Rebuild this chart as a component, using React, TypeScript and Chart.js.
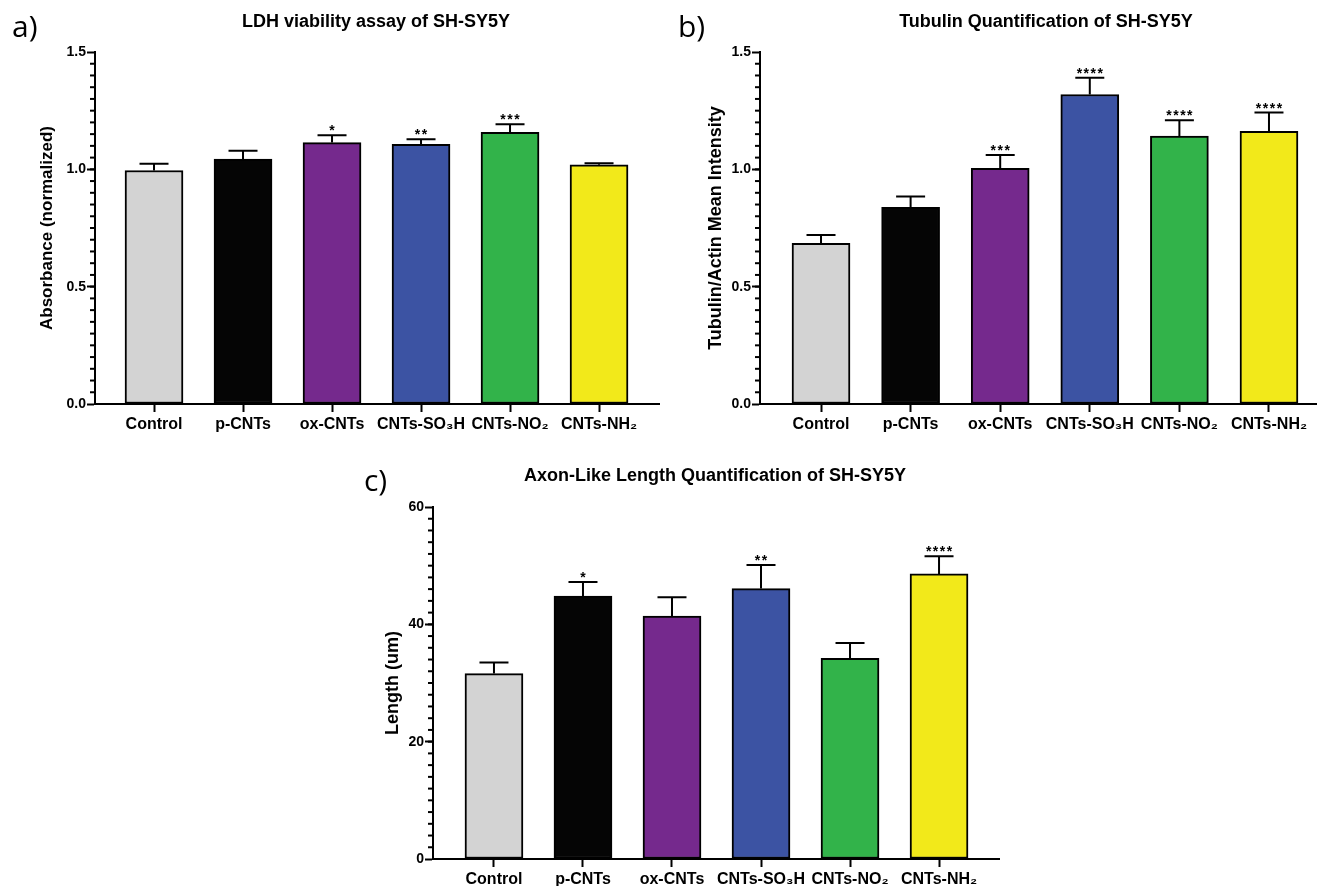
import React, { useEffect, useRef } from 'react';
import { Chart, registerables } from 'chart.js';

Chart.register(...registerables);

// ---------- data ----------
const categories = ['Control', 'p-CNTs', 'ox-CNTs', 'CNTs-SO₃H', 'CNTs-NO₂', 'CNTs-NH₂'];
const barColors = ['#d3d3d3', '#050505', '#75298d', '#3c53a3', '#32b34a', '#f2e91a'];

const ldhMean = [0.995, 1.044, 1.114, 1.107, 1.158, 1.019];
const ldhSem = [0.029, 0.035, 0.031, 0.021, 0.034, 0.007];
const ldhStars = ['', '', '*', '**', '***', ''];
const ldhTicks = [0, 0.5, 1.0, 1.5];

const tubMean = [0.685, 0.838, 1.004, 1.319, 1.142, 1.162];
const tubSem = [0.035, 0.046, 0.057, 0.071, 0.067, 0.08];
const tubStars = ['', '', '***', '****', '****', '****'];
const tubTicks = [0, 0.5, 1.0, 1.5];

const axonMean = [31.6, 44.8, 41.4, 46.1, 34.2, 48.6];
const axonSem = [1.9, 2.4, 3.2, 4.0, 2.6, 3.0];
const axonStars = ['', '*', '', '**', '', '****'];
const axonTicks = [0, 20, 40, 60];

const FONT = '"Liberation Sans", Arial, Helvetica, sans-serif';

type Panel = {
  left: number; top: number; w: number; h: number;
  letter: string; letterX: number; letterY: number;
  title: string; titleX: number; titleY: number;
  yTitle: string; yTitleSize: number; yTitlePad: number;
  mean: number[]; sem: number[]; stars: string[];
  yTicks: number[]; yMax: number; minorStep: number; decimals: number;
  chartTop: number; xAxisH: number; yAxisW: number; xMin: number; xMax: number;
};

const panels: Panel[] = [
  {
    left: 0, top: 0, w: 660, h: 450,
    letter: 'a)', letterX: 12, letterY: 37,
    title: 'LDH viability assay of SH-SY5Y', titleX: 376, titleY: 22,
    yTitle: 'Absorbance (normalized)', yTitleSize: 17, yTitlePad: 37,
    mean: ldhMean, sem: ldhSem, stars: ldhStars,
    yTicks: ldhTicks, yMax: 1.5, minorStep: 0.05, decimals: 1,
    chartTop: 52, xAxisH: 46, yAxisW: 95, xMin: -0.663, xMax: 5.685,
  },
  {
    left: 660, top: 0, w: 657, h: 450,
    letter: 'b)', letterX: 18, letterY: 37,
    title: 'Tubulin Quantification of SH-SY5Y', titleX: 386, titleY: 22,
    yTitle: 'Tubulin/Actin Mean Intensity', yTitleSize: 18, yTitlePad: 45,
    mean: tubMean, sem: tubSem, stars: tubStars,
    yTicks: tubTicks, yMax: 1.5, minorStep: 0.05, decimals: 1,
    chartTop: 52, xAxisH: 46, yAxisW: 100, xMin: -0.681, xMax: 5.536,
  },
  {
    left: 340, top: 455, w: 660, h: 431,
    letter: 'c)', letterX: 24, letterY: 36,
    title: 'Axon-Like Length Quantification of SH-SY5Y', titleX: 375, titleY: 21,
    yTitle: 'Length (um)', yTitleSize: 18, yTitlePad: 42,
    mean: axonMean, sem: axonSem, stars: axonStars,
    yTicks: axonTicks, yMax: 60, minorStep: 2, decimals: 0,
    chartTop: 52, xAxisH: 27, yAxisW: 93, xMin: -0.685, xMax: 5.685,
  },
];

function makeChart(canvas: HTMLCanvasElement, p: Panel) {
  const errorBars = {
    id: 'errorBars',
    afterDatasetsDraw(chart: any) {
      const ctx = chart.ctx;
      const xs = chart.scales.x;
      const ys = chart.scales.y;
      ctx.save();
      ctx.strokeStyle = '#000';
      ctx.fillStyle = '#000';
      ctx.lineWidth = 2;
      p.mean.forEach((m, i) => {
        const x = xs.getPixelForValue(i);
        const y0 = ys.getPixelForValue(m);
        const y1 = ys.getPixelForValue(m + p.sem[i]);
        ctx.beginPath();
        ctx.moveTo(x, y0);
        ctx.lineTo(x, y1);
        ctx.moveTo(x - 14.5, y1);
        ctx.lineTo(x + 14.5, y1);
        ctx.stroke();
        if (p.stars[i]) {
          ctx.font = `bold 14px ${FONT}`;
          (ctx as any).letterSpacing = '1.5px';
          ctx.textAlign = 'center';
          ctx.textBaseline = 'alphabetic';
          const mt = ctx.measureText(p.stars[i]);
          const desc = mt.actualBoundingBoxDescent;
          ctx.fillText(p.stars[i], x + 0.75, y1 - 4 - desc);
        }
      });
      ctx.restore();
    },
  };

  const minorTicks = {
    id: 'minorTicks',
    afterDraw(chart: any) {
      const ctx = chart.ctx;
      const ys = chart.scales.y;
      const ax = chart.chartArea.left;
      ctx.save();
      ctx.strokeStyle = '#000';
      ctx.lineWidth = 2;
      const n = Math.round(p.yMax / p.minorStep);
      for (let k = 1; k < n; k++) {
        const v = k * p.minorStep;
        const y = ys.getPixelForValue(v);
        ctx.beginPath();
        ctx.moveTo(ax - 5, y);
        ctx.lineTo(ax, y);
        ctx.stroke();
      }
      ctx.restore();
    },
  };

  const panelText = {
    id: 'panelText',
    afterDraw(chart: any) {
      const ctx = chart.ctx;
      ctx.save();
      ctx.fillStyle = '#000';
      ctx.font = `30px "Open Sans", "Noto Sans", sans-serif`;
      ctx.textAlign = 'left';
      ctx.textBaseline = 'alphabetic';
      ctx.fillText(p.letter, p.letterX, p.letterY);
      ctx.font = `bold 18px ${FONT}`;
      ctx.textAlign = 'center';
      ctx.textBaseline = 'middle';
      ctx.fillText(p.title, p.titleX, p.titleY);
      ctx.restore();
    },
  };

  const gridCommon = { drawOnChartArea: false, drawTicks: true, tickLength: 8, tickWidth: 2, tickColor: '#000', offset: false };
  const borderCommon = { display: true, color: '#000', width: 2 };

  return new Chart(canvas, {
    type: 'bar',
    data: {
      datasets: [
        {
          data: p.mean.map((v, i) => ({ x: i, y: v })),
          backgroundColor: barColors,
          borderColor: '#000',
          borderWidth: 2,
          borderSkipped: false,
          barThickness: 58,
        } as any,
      ],
    },
    options: {
      responsive: false,
      animation: false,
      layout: { padding: { top: p.chartTop, left: 0, right: 0, bottom: 0 } },
      plugins: {
        legend: { display: false },
        tooltip: { enabled: false },
        title: { display: false },
      },
      scales: {
        x: {
          type: 'linear',
          min: p.xMin,
          max: p.xMax,
          offset: false,
          afterBuildTicks: (s: any) => {
            s.ticks = categories.map((_, i) => ({ value: i }));
          },
          afterFit: (s: any) => {
            s.height = p.xAxisH;
          },
          ticks: {
            autoSkip: false,
            maxRotation: 0,
            minRotation: 0,
            padding: 3,
            color: '#000',
            font: { family: FONT, size: 16, weight: 'bold' },
            callback: (v: any) => categories[Math.round(Number(v))] ?? '',
          },
          grid: gridCommon,
          border: borderCommon,
        },
        y: {
          type: 'linear',
          min: 0,
          max: p.yMax,
          afterBuildTicks: (s: any) => {
            s.ticks = p.yTicks.map((v) => ({ value: v }));
          },
          afterFit: (s: any) => {
            s.width = p.yAxisW;
          },
          ticks: {
            padding: 1,
            color: '#000',
            font: { family: FONT, size: 14, weight: 'bold' },
            callback: (v: any) => Number(v).toFixed(p.decimals),
          },
          title: {
            display: true,
            text: p.yTitle,
            color: '#000',
            font: { family: FONT, size: p.yTitleSize, weight: 'bold' },
            padding: { top: p.yTitlePad, bottom: 0 },
          },
          grid: gridCommon,
          border: borderCommon,
        },
      },
    } as any,
    plugins: [errorBars, minorTicks, panelText],
  });
}

function PanelChart({ p }: { p: Panel }) {
  const ref = useRef<HTMLCanvasElement>(null);
  useEffect(() => {
    if (!ref.current) return;
    const chart = makeChart(ref.current, p);
    return () => chart.destroy();
  }, [p]);
  return (
    <canvas
      ref={ref}
      width={p.w}
      height={p.h}
      style={{ position: 'absolute', left: p.left, top: p.top, width: p.w, height: p.h }}
    />
  );
}

export default function App() {
  return (
    <div
      style={{
        position: 'absolute',
        left: 0,
        top: 0,
        width: 1317,
        height: 886,
        background: '#fff',
        overflow: 'hidden',
      }}
    >
      {panels.map((p, i) => (
        <PanelChart key={i} p={p} />
      ))}
    </div>
  );
}
